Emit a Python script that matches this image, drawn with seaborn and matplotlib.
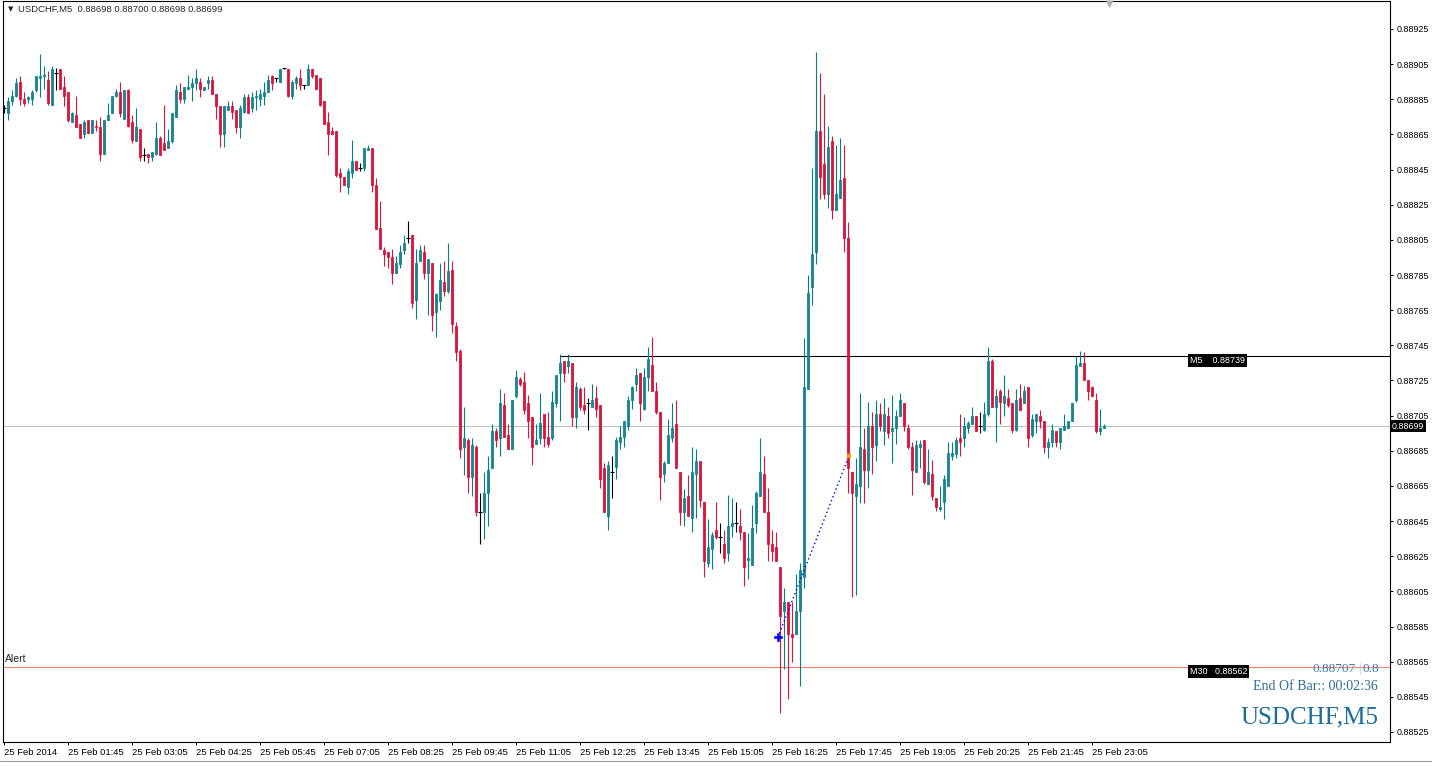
import numpy as np
import pandas as pd
import matplotlib
matplotlib.use("Agg")
import matplotlib.pyplot as plt
from matplotlib.lines import Line2D
import seaborn as sns

sns.set_style("white")
plt.rcParams['font.family'] = ['Liberation Sans', 'DejaVu Sans']

# USDCHF M5, 25 Feb 2014 00:25 .. 23:15 -- prices in points (1e-5)
opens_pts = [
    88880, 88877, 88884, 88887, 88895, 88885, 88885, 88885, 88890, 88897,
    88898, 88896, 88882, 88900, 88902, 88892, 88889, 88872, 88876, 88871,
    88865, 88873, 88866, 88870, 88869, 88854, 88873, 88877, 88887, 88889,
    88874, 88890, 88872, 88861, 88868, 88853, 88854, 88852, 88854, 88863,
    88860, 88857, 88861, 88875, 88889, 88885, 88891, 88892, 88894, 88895,
    88890, 88894, 88896, 88888, 88881, 88865, 88879, 88881, 88879, 88869,
    88878, 88886, 88880, 88886, 88885, 88887, 88889, 88898, 88897, 88895,
    88903, 88902, 88887, 88894, 88897, 88893, 88893, 88902, 88899, 88897,
    88884, 88872, 88867, 88867, 88843, 88841, 88835, 88843, 88850, 88846,
    88846, 88856, 88857, 88836, 88812, 88799, 88798, 88795, 88786, 88791,
    88799, 88806, 88808, 88771, 88793, 88798, 88786, 88792, 88764, 88770,
    88781, 88776, 88788, 88756, 88742, 88687, 88691, 88670, 88687, 88650,
    88650, 88661, 88675, 88696, 88692, 88711, 88694, 88686, 88716, 88726,
    88724, 88712, 88704, 88689, 88692, 88706, 88693, 88692, 88712, 88729,
    88736, 88733, 88735, 88704, 88720, 88711, 88712, 88710, 88715, 88711,
    88675, 88648, 88673, 88676, 88690, 88693, 88699, 88714, 88723, 88729,
    88709, 88727, 88734, 88719, 88707, 88672, 88678, 88692, 88700, 88673,
    88650, 88659, 88647, 88672, 88679, 88656, 88621, 88629, 88640, 88636,
    88632, 88627, 88642, 88644, 88642, 88639, 88623, 88620, 88644, 88659,
    88672, 88650, 88632, 88630, 88619, 88594, 88599, 88581, 88581, 88594,
    88613, 88720, 88778, 88798, 88867, 88848, 88831, 88861, 88822, 88829,
    88840, 88806, 88673, 88659, 88665, 88686, 88674, 88699, 88688, 88706,
    88696, 88705, 88696, 88698, 88705, 88712, 88698, 88687, 88673, 88687,
    88691, 88666, 88672, 88658, 88652, 88656, 88665, 88682, 88683, 88692,
    88692, 88698, 88700, 88705, 88699, 88697, 88706, 88736, 88710, 88719,
    88712, 88715, 88712, 88697, 88715, 88712, 88721, 88694, 88702, 88705,
    88702, 88687, 88690, 88696, 88690, 88697, 88698, 88702, 88714, 88733,
    88735, 88725, 88721, 88714, 88696, 88698,
]
highs_pts = [
    88882, 88886, 88890, 88897, 88898, 88889, 88887, 88890, 88898, 88911,
    88904, 88901, 88904, 88903, 88902, 88898, 88889, 88878, 88887, 88871,
    88873, 88873, 88873, 88873, 88875, 88873, 88883, 88887, 88891, 88895,
    88890, 88891, 88876, 88880, 88868, 88857, 88854, 88855, 88872, 88864,
    88882, 88868, 88877, 88893, 88894, 88892, 88899, 88897, 88902, 88897,
    88892, 88898, 88898, 88888, 88881, 88881, 88884, 88884, 88879, 88882,
    88888, 88888, 88889, 88890, 88891, 88895, 88899, 88899, 88897, 88902,
    88903, 88902, 88896, 88898, 88902, 88893, 88905, 88902, 88899, 88897,
    88884, 88878, 88869, 88867, 88846, 88841, 88846, 88862, 88850, 88849,
    88857, 88859, 88857, 88840, 88827, 88801, 88798, 88800, 88796, 88802,
    88808, 88816, 88808, 88800, 88802, 88802, 88794, 88792, 88775, 88792,
    88793, 88803, 88793, 88758, 88743, 88710, 88692, 88692, 88688, 88661,
    88673, 88682, 88700, 88698, 88720, 88718, 88700, 88714, 88731, 88727,
    88730, 88717, 88704, 88700, 88718, 88706, 88707, 88719, 88728, 88740,
    88736, 88740, 88735, 88724, 88721, 88721, 88715, 88723, 88722, 88711,
    88678, 88679, 88682, 88693, 88699, 88702, 88716, 88722, 88732, 88729,
    88732, 88744, 88750, 88724, 88707, 88679, 88703, 88712, 88714, 88673,
    88663, 88671, 88687, 88686, 88679, 88656, 88646, 88639, 88656, 88644,
    88640, 88660, 88658, 88656, 88652, 88639, 88638, 88654, 88662, 88692,
    88682, 88664, 88640, 88639, 88619, 88607, 88599, 88599, 88615, 88621,
    88749, 88785, 88846, 88912, 88900, 88888, 88870, 88864, 88859, 88863,
    88859, 88815, 88673, 88681, 88718, 88698, 88713, 88707, 88714, 88712,
    88715, 88710, 88717, 88708, 88718, 88712, 88700, 88690, 88691, 88691,
    88691, 88686, 88680, 88658, 88665, 88671, 88690, 88690, 88693, 88706,
    88704, 88702, 88710, 88705, 88707, 88713, 88744, 88737, 88720, 88720,
    88728, 88720, 88712, 88720, 88723, 88722, 88721, 88706, 88706, 88708,
    88702, 88692, 88700, 88696, 88698, 88706, 88702, 88712, 88739, 88742,
    88741, 88725, 88722, 88718, 88709, 88700,
]
lows_pts = [
    88877, 88873, 88882, 88886, 88882, 88881, 88883, 88882, 88889, 88886,
    88891, 88882, 88882, 88890, 88891, 88881, 88872, 88872, 88869, 88863,
    88863, 88866, 88866, 88867, 88850, 88854, 88873, 88877, 88886, 88875,
    88874, 88869, 88860, 88861, 88850, 88850, 88849, 88850, 88853, 88853,
    88856, 88857, 88860, 88875, 88883, 88883, 88891, 88884, 88890, 88886,
    88890, 88891, 88888, 88874, 88858, 88858, 88879, 88874, 88866, 88863,
    88877, 88877, 88878, 88879, 88881, 88882, 88889, 88890, 88895, 88895,
    88902, 88886, 88885, 88891, 88890, 88891, 88893, 88897, 88891, 88881,
    88871, 88853, 88865, 88841, 88832, 88836, 88831, 88840, 88845, 88844,
    88844, 88856, 88832, 88811, 88800, 88790, 88789, 88780, 88786, 88789,
    88797, 88803, 88766, 88760, 88793, 88783, 88762, 88753, 88750, 88765,
    88773, 88775, 88752, 88736, 88681, 88671, 88661, 88659, 88648, 88632,
    88635, 88642, 88675, 88687, 88682, 88693, 88686, 88686, 88715, 88722,
    88706, 88692, 88677, 88689, 88689, 88687, 88687, 88691, 88710, 88702,
    88724, 88729, 88699, 88698, 88708, 88706, 88697, 88710, 88704, 88664,
    88650, 88640, 88658, 88669, 88686, 88687, 88697, 88709, 88719, 88702,
    88708, 88719, 88719, 88706, 88657, 88667, 88678, 88690, 88675, 88643,
    88642, 88648, 88639, 88647, 88653, 88613, 88619, 88618, 88635, 88627,
    88621, 88622, 88636, 88639, 88634, 88608, 88612, 88620, 88638, 88659,
    88650, 88622, 88622, 88622, 88536, 88561, 88544, 88565, 88581, 88551,
    88607, 88720, 88768, 88791, 88828, 88828, 88823, 88817, 88822, 88829,
    88798, 88661, 88602, 88603, 88655, 88655, 88664, 88672, 88679, 88696,
    88688, 88692, 88678, 88689, 88705, 88696, 88686, 88660, 88673, 88675,
    88666, 88666, 88657, 88651, 88651, 88646, 88665, 88680, 88681, 88682,
    88687, 88695, 88700, 88696, 88695, 88696, 88705, 88710, 88690, 88700,
    88705, 88710, 88695, 88696, 88708, 88712, 88687, 88693, 88695, 88698,
    88684, 88681, 88687, 88687, 88686, 88697, 88698, 88702, 88713, 88733,
    88725, 88714, 88716, 88695, 88694, 88698,
]
closes_pts = [
    88880, 88884, 88887, 88894, 88885, 88883, 88886, 88889, 88898, 88898,
    88899, 88883, 88902, 88900, 88891, 88887, 88873, 88877, 88869, 88863,
    88872, 88866, 88873, 88869, 88854, 88873, 88876, 88887, 88889, 88877,
    88890, 88870, 88862, 88869, 88852, 88853, 88852, 88855, 88863, 88853,
    88856, 88861, 88877, 88890, 88885, 88892, 88892, 88894, 88897, 88891,
    88892, 88896, 88888, 88881, 88865, 88881, 88881, 88878, 88869, 88880,
    88886, 88877, 88886, 88887, 88888, 88889, 88896, 88894, 88897, 88902,
    88903, 88887, 88895, 88897, 88893, 88893, 88902, 88898, 88891, 88882,
    88871, 88865, 88865, 88842, 88841, 88836, 88844, 88850, 88845, 88846,
    88857, 88857, 88836, 88811, 88800, 88797, 88795, 88786, 88792, 88798,
    88803, 88806, 88769, 88792, 88799, 88786, 88794, 88762, 88774, 88782,
    88776, 88787, 88757, 88741, 88686, 88692, 88670, 88688, 88650, 88650,
    88661, 88674, 88696, 88691, 88712, 88693, 88686, 88714, 88727, 88723,
    88708, 88702, 88687, 88691, 88701, 88692, 88689, 88713, 88728, 88735,
    88729, 88736, 88704, 88721, 88710, 88708, 88712, 88714, 88709, 88669,
    88650, 88677, 88673, 88691, 88693, 88702, 88714, 88721, 88728, 88712,
    88727, 88737, 88719, 88707, 88670, 88678, 88694, 88698, 88675, 88650,
    88658, 88648, 88673, 88679, 88657, 88622, 88630, 88637, 88636, 88636,
    88624, 88642, 88644, 88644, 88639, 88619, 88624, 88641, 88661, 88673,
    88650, 88632, 88628, 88622, 88591, 88599, 88581, 88579, 88594, 88617,
    88721, 88775, 88797, 88867, 88841, 88831, 88858, 88822, 88831, 88839,
    88806, 88675, 88661, 88666, 88687, 88674, 88699, 88687, 88706, 88699,
    88706, 88695, 88698, 88705, 88714, 88699, 88687, 88674, 88688, 88689,
    88667, 88673, 88659, 88653, 88653, 88669, 88684, 88684, 88691, 88690,
    88699, 88701, 88705, 88696, 88699, 88706, 88736, 88710, 88716, 88713,
    88716, 88711, 88697, 88714, 88708, 88719, 88692, 88703, 88706, 88702,
    88687, 88690, 88697, 88690, 88698, 88699, 88702, 88712, 88734, 88735,
    88725, 88719, 88716, 88696, 88698, 88699,
]

time_tick_bars = [0, 16, 32, 48, 64, 80, 96, 112, 128, 144, 160, 176, 192, 208, 224, 240, 256, 272]
time_tick_labels = ["25 Feb 2014", "25 Feb 01:45", "25 Feb 03:05", "25 Feb 04:25", "25 Feb 05:45",
                    "25 Feb 07:05", "25 Feb 08:25", "25 Feb 09:45", "25 Feb 11:05", "25 Feb 12:25",
                    "25 Feb 13:45", "25 Feb 15:05", "25 Feb 16:25", "25 Feb 17:45", "25 Feb 19:05",
                    "25 Feb 20:25", "25 Feb 21:45", "25 Feb 23:05"]
price_ticks = [0.88525, 0.88545, 0.88565, 0.88585, 0.88605, 0.88625, 0.88645, 0.88665,
               0.88685, 0.88705, 0.88725, 0.88745, 0.88765, 0.88785, 0.88805, 0.88825,
               0.88845, 0.88865, 0.88885, 0.88905, 0.88925]

bid_price = 0.88699
m5_level = 0.88739
m5_level_start = 139
alert_level = 0.88562
arrow_bars = [193.5, 211.25]
arrow_prices = [0.88579, 0.88682]

df = pd.DataFrame({
    'bar': np.arange(len(opens_pts)),
    'open': np.array(opens_pts) / 1e5,
    'high': np.array(highs_pts) / 1e5,
    'low': np.array(lows_pts) / 1e5,
    'close': np.array(closes_pts) / 1e5,
})
df['kind'] = np.where(df.close > df.open, 'bull', np.where(df.close < df.open, 'bear', 'doji'))

BULL_FACE, BULL_EDGE = '#2a7b9b', '#0a8a8a'
BEAR = '#dc143c'
wick_col = {'bull': '#008080', 'bear': BEAR, 'doji': 'black'}
face_col = {'bull': BULL_FACE, 'bear': BEAR}
edge_col = {'bull': BULL_EDGE, 'bear': BEAR}

W, H = 1432, 766
fig = plt.figure(figsize=(W / 100, H / 100), dpi=100)
ax = fig.add_axes([3 / W, 24 / H, 1387 / W, 741 / H])


def px(x, y):
    return x / W, 1 - y / H


# reference lines
ax.axhline(bid_price, color='#c0c0c0', lw=0.8, zorder=1)
ax.axhline(alert_level, color='#fa8072', lw=0.8, zorder=1)
ax.hlines(m5_level, m5_level_start, 346.5, color='black', lw=0.8, zorder=1)

# candles
ax.vlines(df.bar, df.low, df.high, colors=df.kind.map(wick_col), linewidth=0.8, zorder=2)
body = df[df.kind != 'doji']
ax.bar(body.bar, (body.close - body.open).abs(), bottom=body[['open', 'close']].min(axis=1),
       width=0.72, color=body.kind.map(face_col), edgecolor=body.kind.map(edge_col),
       linewidth=0.6, zorder=3)
doji = df[df.kind == 'doji']
ax.hlines(doji.close, doji.bar - 0.4, doji.bar + 0.4, colors='black', lw=0.8, zorder=3)

# trade arrow
sns.lineplot(x=arrow_bars, y=arrow_prices, ax=ax, color='blue', lw=1, linestyle=(0, (1, 2)), zorder=4)
sns.scatterplot(x=arrow_bars[:1], y=arrow_prices[:1], ax=ax, marker='P', s=28, color='blue',
                edgecolor='blue', zorder=5)
sns.scatterplot(x=arrow_bars[1:], y=arrow_prices[1:], ax=ax, marker='s', s=7, color='#f0a000',
                edgecolor='#f0a000', zorder=5)

ax.set_xlim(-0.25, 346.5)
ax.set_ylim(0.885193, 0.889409)

ax.yaxis.tick_right()
ax.set_yticks(price_ticks)
ax.set_yticklabels([f"{v:.5f}" for v in price_ticks])
ax.set_xticks(time_tick_bars)
ax.set_xticklabels(time_tick_labels)
for lbl in ax.get_xticklabels():
    lbl.set_ha('left')
ax.tick_params(axis='y', direction='out', length=2.5, width=0.7, pad=2.5, labelsize=6.4,
               right=True, left=False, colors='black')
ax.tick_params(axis='x', direction='out', length=2.5, width=0.7, pad=1.5, labelsize=6.8,
               bottom=True, colors='black')
ax.set_xlabel('')
ax.set_ylabel('')
for s in ax.spines.values():
    s.set_color('black')
    s.set_linewidth(0.8)

# price boxes
ytr = ax.get_yaxis_transform()
box = dict(facecolor='black', edgecolor='none', boxstyle='square,pad=0.2')
ax.text(1 + 2 / 1387, bid_price, '0.88699', transform=ytr, ha='left', va='center',
        color='white', fontsize=6.4, bbox=box, clip_on=False, zorder=6)
ax.text((1190 - 3) / 1387, m5_level - 0.000027, 'M5    0.88739', transform=ytr, ha='left', va='center',
        color='white', fontsize=6.4, bbox=box, zorder=6)
ax.text((1190 - 3) / 1387, alert_level - 0.000027, 'M30   0.88562', transform=ytr, ha='left', va='center',
        color='white', fontsize=6.4, bbox=box, zorder=6)

# header and info texts
fig.text(*px(8, 9), '▼', fontsize=5, va='center', ha='left', family=['DejaVu Sans'])
fig.text(*px(18, 9), 'USDCHF,M5  0.88698 0.88700 0.88698 0.88699', fontsize=6.8, va='center', ha='left')
fig.text(*px(1110, 4), '▼', fontsize=7, va='center', ha='center', color='#b0b0b0', family=['DejaVu Sans'])
fig.text(*px(5, 659), 'Alert', fontsize=7.5, va='center', ha='left')

serif = ['Liberation Serif', 'DejaVu Serif']
fig.text(*px(1379, 669), '0.8', fontsize=9.5, va='center', ha='right', color='#3a7fa8', family=serif)
fig.text(*px(1360, 669), '|', fontsize=9.5, va='center', ha='center', color='#9fd0ea', family=serif)
fig.text(*px(1356, 669), '0.88707', fontsize=9.5, va='center', ha='right', color='#3a7fa8', family=serif)
fig.text(*px(1378, 687), 'End Of Bar:: 00:02:36', fontsize=10, va='center', ha='right', color='#2b6d92',
         family=serif)
fig.text(*px(1378, 717), 'USDCHF,M5', fontsize=18, va='center', ha='right', color='#1c6c9c', family=serif)

fig.add_artist(Line2D([0, 1], [1 - 761 / H, 1 - 761 / H], color='#a0a0a0', lw=0.8))

fig.savefig('out.png', dpi=100, facecolor='white')
